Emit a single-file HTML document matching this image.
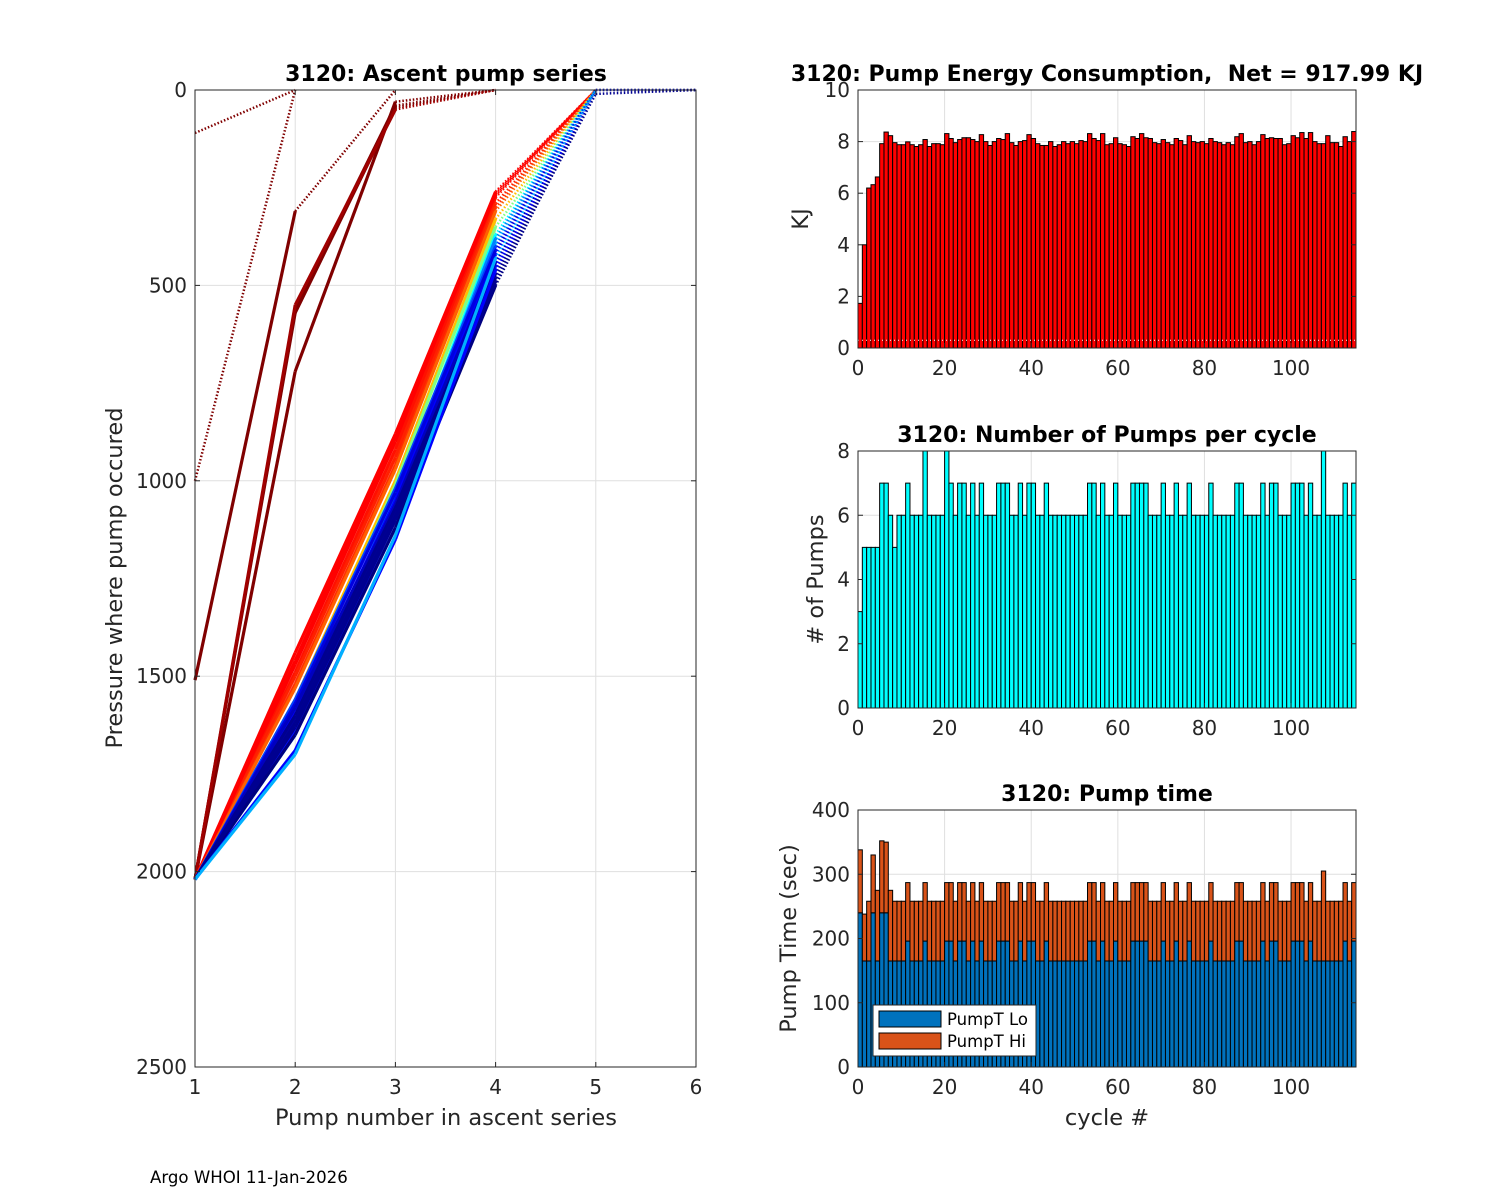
<!DOCTYPE html>
<html><head><meta charset="utf-8"><style>
body{margin:0;background:#fff;}
svg{display:block;font-family:"DejaVu Sans","Liberation Sans",sans-serif;}
text{white-space:pre;}
</style></head><body>
<svg id="fig" width="1500" height="1200" viewBox="0 0 1500 1200" xmlns="http://www.w3.org/2000/svg">
<rect width="1500" height="1200" fill="#fff"/>
<g id="left"></g>
<g id="energy"></g>
<g id="pumps"></g>
<g id="ptime"></g>
<text x="150" y="1183" font-size="16.6" fill="#000">Argo WHOI 11-Jan-2026</text>
</svg>
<script>
// ---- data ----
const pumpNumbers = [1,2,3,4,5,6];
const profileColors = ["#800000","#800000","#800000","#800000","#800000","#800000","#a00000",
 "#ff0000","#ff0000","#ff1000","#ff2000","#ff3000","#ff0000","#ff6000","#ffc000","#80ff80","#00ffff","#00c0ff","#0080ff",
 "#0040ff","#0000ff","#0000ff","#0000e0","#0010ff","#0000c0","#0000a0","#000090","#000080","#00008f","#000090","#0000ff","#00b0ff"];
const profiles = [
 [2020,560,40,0],[2020,570,45,0],[2020,720,30,0],[1510,310,0],[1000,0],[110,0],[2020,550,50,0],
 [2020,1440,880,260,0],[2020,1470,900,270,0],[2020,1490,920,275,0],[2020,1500,940,290,0],[2020,1520,960,300,0],[2020,1460,890,265,0,0],
 [2020,1530,970,310,0],[2020,1560,1000,330,0],[2020,1580,1010,350,0,0],[2020,1620,1040,370,0],[2020,1650,1080,390,0],[2020,1600,1050,380,0],
 [2020,1560,1020,400,0],[2020,1590,1050,420,0],[2020,1620,1080,440,0],[2020,1570,1030,410,0],[2020,1640,1100,450,0,0],
 [2020,1580,1060,440,0],[2020,1610,1080,460,0],[2020,1630,1100,480,0],[2020,1650,1120,500,0],[2020,1600,1070,470,0],[2020,1620,1090,490,10,0],
 [2020,1690,1150,460,0],[2020,1700,1140,430,0]
];
const yTicksLeft = [0,500,1000,1500,2000,2500];

const energy = [1.73,4.0,6.2,6.33,6.63,7.92,8.37,8.23,7.96,7.88,
 7.88,7.99,7.88,7.81,7.88,8.08,7.81,7.92,7.92,7.88,
 8.31,8.12,7.96,8.08,8.15,8.15,8.08,8.0,8.27,8.0,
 7.85,8.0,8.12,8.08,8.31,7.96,7.85,8.0,8.04,8.27,
 8.12,7.92,7.85,7.85,8.0,7.81,7.88,8.0,7.92,8.0,
 7.92,8.04,8.0,8.31,8.12,8.04,8.31,7.88,7.92,8.15,
 7.92,7.88,7.81,8.19,8.12,8.31,8.15,8.12,7.96,7.92,
 8.08,7.96,7.88,8.12,8.04,7.88,8.23,8.0,7.96,8.0,
 7.92,8.12,8.0,7.96,7.88,7.96,7.88,8.19,8.31,7.96,
 8.0,7.88,8.0,8.27,8.12,8.15,8.12,8.12,7.88,7.92,
 8.23,8.15,8.35,8.12,8.35,8.0,7.92,7.92,8.23,7.96,
 7.96,7.81,8.19,8.0,8.39];
const pumpCounts = [3,5,5,5,5,7,7,6,5,6, 6,7,6,6,6,8,6,6,6,6, 8,7,6,7,7,6,7,6,7,6,
 6,6,7,7,7,6,6,7,6,7, 7,6,6,7,6,6,6,6,6,6, 6,6,6,7,7,6,7,6,6,7,
 6,6,6,7,7,7,7,6,6,6, 7,6,6,7,6,6,7,6,6,6, 6,7,6,6,6,6,6,7,7,6,
 6,6,6,7,6,7,7,6,6,6, 7,7,7,6,7,6,6,8,6,6, 6,6,7,6,7];
const pumpTLo = [240,165,165,240,165,240,240,165,165,165, 165,196,165,165,165,196,165,165,165,165,
 196,196,165,196,196,165,196,165,196,165, 165,165,196,196,196,165,165,196,165,196,
 196,165,165,196,165,165,165,165,165,165, 165,165,165,196,196,165,196,165,165,196,
 165,165,165,196,196,196,196,165,165,165, 196,165,165,196,165,165,196,165,165,165,
 165,196,165,165,165,165,165,196,196,165, 165,165,165,196,165,196,196,165,165,165,
 196,196,196,165,196,165,165,165,165,165, 165,165,196,165,196];
const pumpTHi = [98,73,93,90,110,112,110,110,93,93, 93,91,93,93,93,91,93,93,93,93,
 91,91,93,91,91,93,91,93,91,93, 93,93,91,91,91,93,93,91,93,91,
 91,93,93,91,93,93,93,93,93,93, 93,93,93,91,91,93,91,93,93,91,
 93,93,93,91,91,91,91,93,93,93, 91,93,93,91,93,93,91,93,93,93,
 93,91,93,93,93,93,93,91,91,93, 93,93,93,91,93,91,91,93,93,93,
 91,91,91,93,91,93,93,140,93,93, 93,93,91,93,91];
const cycleTicks = [0,20,40,60,80,100];

const NS="http://www.w3.org/2000/svg";
function mk(parent,tag,attrs){const e=document.createElementNS(NS,tag);for(const k in attrs)e.setAttribute(k,attrs[k]);parent.appendChild(e);return e;}
const AX="#262626", GRID="#dfdfdf";
const TICKF=20, LABF=22.5, TITF=22;

// ---- left chart ----
(function(){
 const g=document.getElementById('left');
 const L=195,R=696,T=90,B=1067;
 const x=v=>L+(v-1)*(R-L)/5, y=p=>T+p*(B-T)/2500;
 for(const v of pumpNumbers){const l=mk(g,'line',{x1:x(v),x2:x(v),y1:T,y2:B,stroke:GRID,'stroke-width':1});
  }
 for(const p of yTicksLeft){const l=mk(g,'line',{x1:L,x2:R,y1:y(p),y2:y(p),stroke:GRID,'stroke-width':1});
  }
 profiles.forEach((pr,i)=>{
  for(let k=0;k<pr.length-1;k++){
   const dotted=pr[k+1]<=12;
   const l=mk(g,'line',{x1:x(pumpNumbers[k]),y1:y(pr[k]),x2:x(pumpNumbers[k+1]),y2:y(pr[k+1]),stroke:profileColors[i],'stroke-width':dotted?2.5:3.2,'stroke-dasharray':dotted?'1.5 2':'none','stroke-linecap':'butt'});
   
   
  }
 });
 mk(g,'rect',{x:L,y:T,width:R-L,height:B-T,fill:'none',stroke:AX,'stroke-width':1});
 for(const v of pumpNumbers){mk(g,'line',{x1:x(v),x2:x(v),y1:B,y2:B-5,stroke:AX});mk(g,'line',{x1:x(v),x2:x(v),y1:T,y2:T+5,stroke:AX});
  const t=mk(g,'text',{x:x(v),y:B+27,'font-size':TICKF,'text-anchor':'middle',fill:AX});t.textContent=v;
  }
 for(const p of yTicksLeft){mk(g,'line',{x1:L,x2:L+5,y1:y(p),y2:y(p),stroke:AX});mk(g,'line',{x1:R,x2:R-5,y1:y(p),y2:y(p),stroke:AX});
  const t=mk(g,'text',{x:L-8,y:y(p)+7,'font-size':TICKF,'text-anchor':'end',fill:AX});t.textContent=p;
  }
 let t=mk(g,'text',{x:446,y:81,'font-size':TITF,'font-weight':'bold','text-anchor':'middle',fill:'#000'});t.textContent='3120: Ascent pump series';
 
 t=mk(g,'text',{x:446,y:1125,'font-size':LABF,'text-anchor':'middle',fill:AX});t.textContent='Pump number in ascent series';
 
 t=mk(g,'text',{x:0,y:0,'font-size':LABF,'text-anchor':'middle',fill:AX,transform:'translate(122,578) rotate(-90)'});t.textContent='Pressure where pump occured';
 
})();

// ---- bar charts ----
function barAxes(g,T,B,ymax,yticks,title,ylabel,ylabelX,xlabel){
 const L=858,R=1356;
 const x=v=>L+v*(R-L)/115, y=v=>B-v*(B-T)/ymax;
 for(const c of cycleTicks){const l=mk(g,'line',{x1:x(c),x2:x(c),y1:T,y2:B,stroke:GRID});}
 for(const v of yticks){const l=mk(g,'line',{x1:L,x2:R,y1:y(v),y2:y(v),stroke:GRID});}
 return {L,R,x,y,finish(){
  mk(g,'rect',{x:L,y:T,width:R-L,height:B-T,fill:'none',stroke:AX});
  for(const c of cycleTicks){mk(g,'line',{x1:x(c),x2:x(c),y1:B,y2:B-5,stroke:AX});
   const t=mk(g,'text',{x:x(c),y:B+27,'font-size':TICKF,'text-anchor':'middle',fill:AX});t.textContent=c;
   }
  for(const v of yticks){mk(g,'line',{x1:L,x2:L+5,y1:y(v),y2:y(v),stroke:AX});mk(g,'line',{x1:R,x2:R-5,y1:y(v),y2:y(v),stroke:AX});
   const t=mk(g,'text',{x:L-8,y:y(v)+7,'font-size':TICKF,'text-anchor':'end',fill:AX});t.textContent=v;
   }
  let t=mk(g,'text',{x:1107,y:T-9,'font-size':TITF,'font-weight':'bold','text-anchor':'middle',fill:'#000'});t.textContent=title;
  
  t=mk(g,'text',{x:0,y:0,'font-size':LABF,'text-anchor':'middle',fill:AX,transform:`translate(${ylabelX},${(T+B)/2}) rotate(-90)`});t.textContent=ylabel;
  
  if(xlabel){t=mk(g,'text',{x:1107,y:B+58,'font-size':LABF,'text-anchor':'middle',fill:AX});t.textContent=xlabel;
   }
 }};
}
(function(){
 const g=document.getElementById('energy');
 const a=barAxes(g,90,348,10,[0,2,4,6,8,10],'3120: Pump Energy Consumption,  Net = 917.99 KJ','KJ',808);
 energy.forEach((v,i)=>{const r=mk(g,'rect',{x:a.x(i),y:a.y(v),width:a.x(i+1)-a.x(i),height:a.y(0)-a.y(v),fill:'#ff0000',stroke:'#000','stroke-width':1});
  });
 const l=mk(g,'line',{x1:a.L,x2:a.R,y1:a.y(0.3),y2:a.y(0.3),stroke:'#fff','stroke-dasharray':'1 3','stroke-width':1});
 
 a.finish();
})();
(function(){
 const g=document.getElementById('pumps');
 const a=barAxes(g,451,708,8,[0,2,4,6,8],'3120: Number of Pumps per cycle','# of Pumps',823);
 pumpCounts.forEach((v,i)=>{const r=mk(g,'rect',{x:a.x(i),y:a.y(v),width:a.x(i+1)-a.x(i),height:a.y(0)-a.y(v),fill:'#00ffff',stroke:'#000','stroke-width':1});
  });
 a.finish();
})();
(function(){
 const g=document.getElementById('ptime');
 const a=barAxes(g,810,1067,400,[0,100,200,300,400],'3120: Pump time','Pump Time (sec)',796,'cycle #');
 pumpTLo.forEach((v,i)=>{
  const r=mk(g,'rect',{x:a.x(i),y:a.y(v),width:a.x(i+1)-a.x(i),height:a.y(0)-a.y(v),fill:'#0072bd',stroke:'#000','stroke-width':1});
  
  const h=pumpTHi[i];
  const r2=mk(g,'rect',{x:a.x(i),y:a.y(v+h),width:a.x(i+1)-a.x(i),height:a.y(v)-a.y(v+h),fill:'#d95319',stroke:'#000','stroke-width':1});
  
 });
 a.finish();
 const lg=mk(g,'g',{});
 
 mk(lg,'rect',{x:873,y:1005,width:163,height:51,fill:'#fff',stroke:AX});
 mk(lg,'rect',{x:879,y:1011,width:62,height:16,fill:'#0072bd',stroke:'#000'});
 mk(lg,'rect',{x:879,y:1033,width:62,height:16,fill:'#d95319',stroke:'#000'});
 let t=mk(lg,'text',{x:947,y:1025,'font-size':16.5,fill:'#000'});t.textContent='PumpT Lo';
 
 t=mk(lg,'text',{x:947,y:1047,'font-size':16.5,fill:'#000'});t.textContent='PumpT Hi';
 
})();
</script>
</body></html>
